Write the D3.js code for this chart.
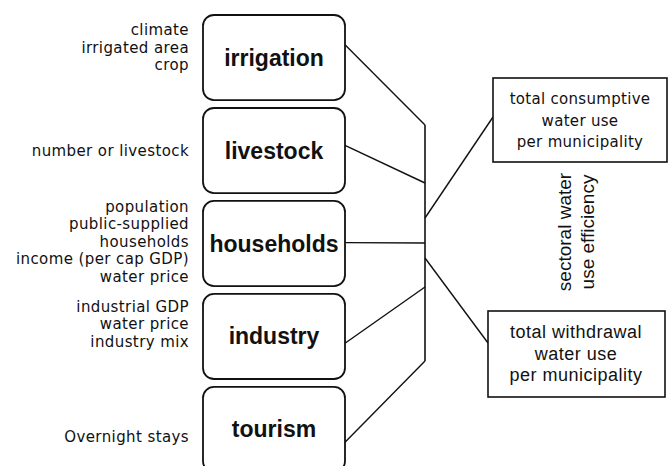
<!DOCTYPE html>
<html>
<head>
<meta charset="utf-8">
<script src="https://cdn.jsdelivr.net/npm/d3@7"></script>
<style>
  body { margin: 0; background: #fff; }
  svg { display: block; }
</style>
</head>
<body>
<svg id="chart"></svg>
<script>
// sectors and the drivers listed next to each one
var sectors = ["irrigation", "livestock", "households", "industry", "tourism"];
var drivers = [
  ["climate", "irrigated area", "crop"],
  ["number or livestock"],
  ["population", "public-supplied", "households", "income (per cap GDP)", "water price"],
  ["industrial GDP", "water price", "industry mix"],
  ["Overnight stays"]
];
var consumptiveLines = ["total consumptive", "water use", "per municipality"];
var withdrawalLines = ["total withdrawal", "water use", "per municipality"];
var efficiencyLines = ["sectoral water", "use efficiency"];

var width = 669, height = 466;

var svg = d3.select("#chart")
  .attr("width", width)
  .attr("height", height);

// boxes are stacked with a band scale
var y = d3.scaleBand()
  .domain(sectors)
  .range([15, 472])
  .paddingInner(0.085);

var boxLeft = 203, boxRight = 345;
var busX = 425;
// where each connector leaves its box (share of box height) and hits the bus
var leave = [0.35, 0.44, 0.49, 0.58, 0.65];
var busY = [125, 183, 243, 287, 361];
// driver lists sit a little off the box centre
var groupShift = [-10, 0, -2, -12, 8];

var ink = "#111";

// sector boxes
var box = svg.selectAll("g.sector")
  .data(sectors)
  .enter().append("g")
  .attr("class", "sector");

box.append("rect")
  .attr("x", boxLeft)
  .attr("y", function(d) { return y(d); })
  .attr("width", boxRight - boxLeft)
  .attr("height", y.bandwidth())
  .attr("rx", 11)
  .attr("ry", 11)
  .style("fill", "none")
  .style("stroke", ink)
  .style("stroke-width", 1.8);

box.append("text")
  .attr("x", (boxLeft + boxRight) / 2)
  .attr("y", function(d) { return y(d) + y.bandwidth() / 2 + 8; })
  .attr("text-anchor", "middle")
  .style("font-family", "'Liberation Sans', Arial, sans-serif")
  .style("font-weight", "bold")
  .style("font-size", "23px")
  .style("fill", ink)
  .text(function(d) { return d; });

// driver lists, right aligned left of the boxes
var lh = 17.5;
box.append("text")
  .attr("text-anchor", "end")
  .style("font-family", "'DejaVu Sans', sans-serif")
  .style("font-size", "15px")
  .style("letter-spacing", "0.4px")
  .style("fill", ink)
  .each(function(d, i) {
    var lines = drivers[i];
    var mid = y(d) + y.bandwidth() / 2 + groupShift[i];
    var first = mid - (lines.length - 1) * lh / 2 + 5;
    d3.select(this).selectAll("tspan")
      .data(lines)
      .enter().append("tspan")
      .attr("x", 189)
      .attr("y", function(t, j) { return first + j * lh; })
      .text(function(t) { return t; });
  });

// connectors into the bus line
svg.selectAll("line.feed")
  .data(sectors)
  .enter().append("line")
  .attr("class", "feed")
  .attr("x1", boxRight)
  .attr("y1", function(d, i) { return y(d) + leave[i] * y.bandwidth(); })
  .attr("x2", busX)
  .attr("y2", function(d, i) { return busY[i]; })
  .style("stroke", ink)
  .style("stroke-width", 1.4);

svg.append("line")
  .attr("x1", busX).attr("x2", busX)
  .attr("y1", d3.min(busY)).attr("y2", d3.max(busY))
  .style("stroke", ink)
  .style("stroke-width", 1.6);

// output boxes on the right
var outputs = [
  { lines: consumptiveLines, x: 493, y: 78, w: 174, h: 84, from: 218, to: 117,
    font: "'DejaVu Sans', sans-serif", size: 15, ls: 0.3, cx: 580 },
  { lines: withdrawalLines, x: 488, y: 311, w: 177, h: 86, from: 258, to: 343,
    font: "'Liberation Sans', Arial, sans-serif", size: 18, ls: 0.5, cx: 576 }
];

var out = svg.selectAll("g.output")
  .data(outputs)
  .enter().append("g")
  .attr("class", "output");

out.append("line")
  .attr("x1", busX)
  .attr("y1", function(d) { return d.from; })
  .attr("x2", function(d) { return d.x; })
  .attr("y2", function(d) { return d.to; })
  .style("stroke", ink)
  .style("stroke-width", 1.4);

out.append("rect")
  .attr("x", function(d) { return d.x; })
  .attr("y", function(d) { return d.y; })
  .attr("width", function(d) { return d.w; })
  .attr("height", function(d) { return d.h; })
  .style("fill", "#fff")
  .style("stroke", ink)
  .style("stroke-width", 1.6);

out.append("text")
  .attr("text-anchor", "middle")
  .style("fill", ink)
  .style("font-family", function(d) { return d.font; })
  .style("font-size", function(d) { return d.size + "px"; })
  .style("letter-spacing", function(d) { return d.ls + "px"; })
  .each(function(d) {
    var mid = d.y + d.h / 2;
    d3.select(this).selectAll("tspan")
      .data(d.lines)
      .enter().append("tspan")
      .attr("x", d.cx)
      .attr("y", function(t, j) { return mid + (j - 1) * 21.5 + 5.5; })
      .text(function(t) { return t; });
  });

// rotated efficiency label between the two output boxes
svg.append("text")
  .attr("transform", "translate(571,232) rotate(-90)")
  .attr("text-anchor", "middle")
  .style("font-family", "'Liberation Sans', Arial, sans-serif")
  .style("font-size", "19px")
  .style("fill", ink)
  .selectAll("tspan")
  .data(efficiencyLines)
  .enter().append("tspan")
  .attr("x", 0)
  .attr("y", function(d, i) { return i * 23; })
  .text(function(d) { return d; });
</script>
</body>
</html>
